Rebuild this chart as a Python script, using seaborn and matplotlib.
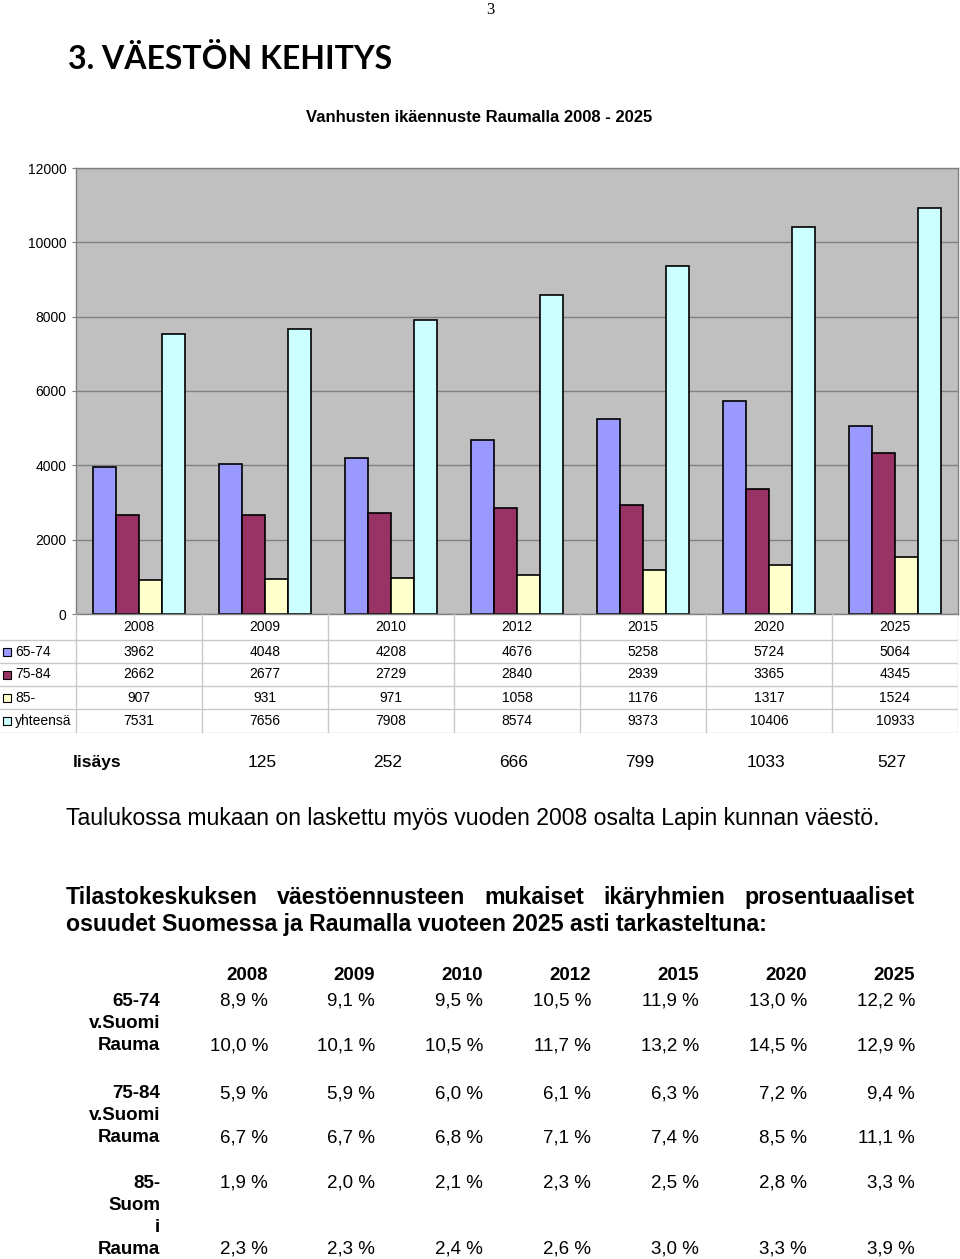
import pandas as pd
import numpy as np
import matplotlib
matplotlib.use('Agg')
import matplotlib.pyplot as plt
import seaborn as sns

# data
years = ['2008', '2009', '2010', '2012', '2015', '2020', '2025']
groups = ['65-74', '75-84', '85-', 'yhteensä']
v65_74 = [3962, 4048, 4208, 4676, 5258, 5724, 5064]
v75_84 = [2662, 2677, 2729, 2840, 2939, 3365, 4345]
v85 = [907, 931, 971, 1058, 1176, 1317, 1524]
yhteensa = [7531, 7656, 7908, 8574, 9373, 10406, 10933]
lisays = [125, 252, 666, 799, 1033, 527]   # 2009..2025
colors = ['#9999FF', '#993366', '#FFFFCC', '#CCFFFF']

# percentage shares, Suomi / Rauma
suomi_65 = [8.9, 9.1, 9.5, 10.5, 11.9, 13.0, 12.2]
rauma_65 = [10.0, 10.1, 10.5, 11.7, 13.2, 14.5, 12.9]
suomi_75 = [5.9, 5.9, 6.0, 6.1, 6.3, 7.2, 9.4]
rauma_75 = [6.7, 6.7, 6.8, 7.1, 7.4, 8.5, 11.1]
suomi_85 = [1.9, 2.0, 2.1, 2.3, 2.5, 2.8, 3.3]
rauma_85 = [2.3, 2.3, 2.4, 2.6, 3.0, 3.3, 3.9]

W, H = 960, 1259


def fx(x):
    return x / W


def fy(y):
    return 1 - y / H


sns.set_style('white')
plt.rcParams['font.family'] = ['Liberation Sans', 'DejaVu Sans']
plt.rcParams['text.color'] = 'black'
plt.rcParams['ytick.color'] = 'black'
plt.rcParams['xtick.color'] = 'black'

fig = plt.figure(figsize=(9.6, 12.59), dpi=100)

# page number and heading
fig.text(fx(490), fy(10), '3', ha='center', va='center', fontsize=12, family='Liberation Serif')
fig.text(fx(68), fy(59), '3. VÄESTÖN KEHITYS', ha='left', va='center', fontsize=23,
         fontweight='bold', family='Lato')
fig.text(fx(479), fy(117), 'Vanhusten ikäennuste Raumalla 2008 - 2025', ha='center', va='center',
         fontsize=12, fontweight='bold')

# bar chart
df = pd.DataFrame({
    'vuosi': years * 4,
    'ryhma': [g for g in groups for _ in years],
    'arvo': v65_74 + v75_84 + v85 + yhteensa,
})

ax = fig.add_axes([fx(76), fy(614), fx(958) - fx(76), fy(168) - fy(614)])
ax.set_facecolor('#C0C0C0')
sns.barplot(data=df, x='vuosi', y='arvo', hue='ryhma', order=years, hue_order=groups,
            palette=colors, saturation=1, width=0.73, edgecolor='black', linewidth=1.2,
            legend=False, ax=ax)
ax.set_ylim(0, 12000)
ax.set_yticks(np.arange(0, 12001, 2000))
ax.set_axisbelow(True)
ax.yaxis.grid(True, color='#808080', linewidth=1)
ax.set_xticks([])
ax.set_xlabel('')
ax.set_ylabel('')
ax.tick_params(axis='y', labelsize=10, length=3, left=True, color='#808080', pad=4)
for s in ax.spines.values():
    s.set_color('#808080')
    s.set_linewidth(1)
    s.set_visible(True)

# data table below the chart
tab = fig.add_axes([0, fy(733), fx(958), fy(614) - fy(733)])
tab.set_xlim(0, 958)
tab.set_ylim(733, 614)
tab.axis('off')
col_edges = [76, 202, 328, 454, 580, 706, 832, 958]
row_edges = [614, 640, 663, 686, 709, 733]
line_c = '#C8C8C8'
for x in col_edges:
    tab.plot([x, x], [614, 733], color=line_c, lw=1)
for y in row_edges[1:]:
    tab.plot([0, 958], [y, y], color=line_c, lw=1)
for i, yr in enumerate(years):
    cx = (col_edges[i] + col_edges[i + 1]) / 2
    tab.text(cx, 627, yr, ha='center', va='center', fontsize=10)
rows = [v65_74, v75_84, v85, yhteensa]
for r, (g, vals) in enumerate(zip(groups, rows)):
    cy = (row_edges[r + 1] + row_edges[r + 2]) / 2
    tab.add_patch(plt.Rectangle((3, cy - 4), 8, 8, facecolor=colors[r], edgecolor='black', lw=0.8))
    tab.text(15, cy, g, ha='left', va='center', fontsize=10)
    for i, v in enumerate(vals):
        cx = (col_edges[i] + col_edges[i + 1]) / 2
        tab.text(cx, cy, str(v), ha='center', va='center', fontsize=10)

# lisäys row
fig.text(fx(73), fy(767), 'lisäys', ha='left', va='baseline', fontsize=12.5, fontweight='bold')
for i, v in enumerate(lisays):
    cx = (col_edges[i + 1] + col_edges[i + 2]) / 2
    fig.text(fx(cx - 3), fy(767), str(v), ha='center', va='baseline', fontsize=12.5)

fig.text(fx(66), fy(818), 'Taulukossa mukaan on laskettu myös vuoden 2008 osalta Lapin kunnan väestö.',
         ha='left', va='center', fontsize=16.6)

# justified bold paragraph
line1 = 'Tilastokeskuksen väestöennusteen mukaiset ikäryhmien prosentuaaliset'.split()
renderer = fig.canvas.get_renderer()
words = [fig.text(0, fy(904), w, ha='left', va='baseline', fontsize=16.7, fontweight='bold')
         for w in line1]
widths = [t.get_window_extent(renderer).width for t in words]
gap = (915 - 66 - sum(widths)) / (len(words) - 1)
x = 66
for t, w in zip(words, widths):
    t.set_x(fx(x))
    x += w + gap
fig.text(fx(66), fy(931), 'osuudet Suomessa ja Raumalla vuoteen 2025 asti tarkasteltuna:',
         ha='left', va='baseline', fontsize=16.7, fontweight='bold')

# percentage table
col_right = [268, 375, 483, 591, 699, 807, 915]
for yr, xr in zip(years, col_right):
    fig.text(fx(xr), fy(975), yr, ha='right', va='center', fontsize=13.5, fontweight='bold')


def pct(v):
    return f'{v:.1f}'.replace('.', ',') + ' %'


blocks = [
    (['65-74', 'v.Suomi', 'Rauma'], [1001, 1023, 1046], suomi_65, rauma_65, 1001, 1046),
    (['75-84', 'v.Suomi', 'Rauma'], [1094, 1116, 1138], suomi_75, rauma_75, 1094, 1138),
    (['85-', 'Suom', 'i', 'Rauma'], [1183, 1205, 1227, 1249], suomi_85, rauma_85, 1183, 1249),
]
for labels, ys, s_vals, r_vals, ys1, ys2 in blocks:
    for lab, yy in zip(labels, ys):
        fig.text(fx(160), fy(yy), lab, ha='right', va='center', fontsize=13.5, fontweight='bold')
    for xr, sv, rv in zip(col_right, s_vals, r_vals):
        fig.text(fx(xr), fy(ys1), pct(sv), ha='right', va='center', fontsize=13.5)
        fig.text(fx(xr), fy(ys2), pct(rv), ha='right', va='center', fontsize=13.5)

fig.savefig('out.png', dpi=100, facecolor='white')
